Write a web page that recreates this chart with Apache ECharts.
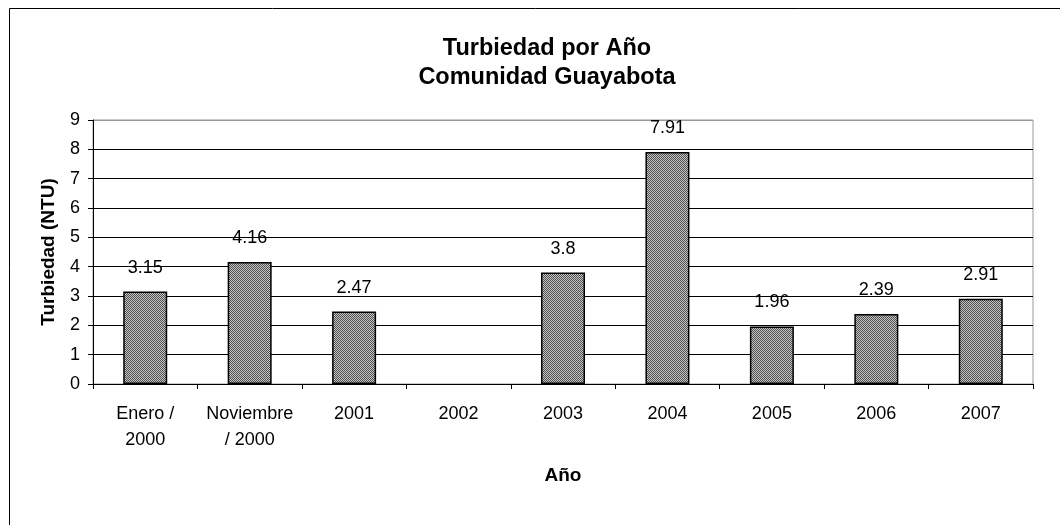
<!DOCTYPE html>
<html>
<head>
<meta charset="utf-8">
<script src="https://cdn.jsdelivr.net/npm/echarts@6/dist/echarts.min.js"></script>
<style>
  html, body { margin: 0; padding: 0; background: #fff; }
  #chart { width: 1060px; height: 525px; }
</style>
</head>
<body>
<div id="chart"></div>
<script>
const categories = ['Enero /\n2000', 'Noviembre\n/ 2000', '2001', '2002', '2003', '2004', '2005', '2006', '2007']
const turbidity = [3.15, 4.16, 2.47, null, 3.8, 7.91, 1.96, 2.39, 2.91]
const yTicks = [0, 1, 2, 3, 4, 5, 6, 7, 8, 9]

const fontFamily = '"Liberation Sans", Arial, sans-serif'

// small checker pattern, like the dotted fill of the bars
function makePattern() {
  const c = document.createElement('canvas')
  c.width = 2
  c.height = 2
  const ctx = c.getContext('2d')
  ctx.fillStyle = '#c4c4c4'
  ctx.fillRect(0, 0, 2, 2)
  ctx.fillStyle = '#505050'
  ctx.fillRect(0, 0, 1, 1)
  ctx.fillRect(1, 1, 1, 1)
  return c
}

const chart = echarts.init(document.getElementById('chart'), null, { renderer: 'canvas' })

chart.setOption({
  animation: false,
  backgroundColor: '#fff',
  textStyle: { fontFamily },
  title: {
    text: 'Turbiedad por Año\nComunidad Guayabota',
    left: 542,
    textAlign: 'center',
    top: 29,
    textStyle: {
      fontFamily,
      fontSize: 23.5,
      fontWeight: 'bold',
      color: '#000',
      lineHeight: 29
    }
  },
  graphic: [{
    type: 'rect',
    shape: { x: 9.5, y: 8.5, width: 1200, height: 700 },
    style: { fill: 'none', stroke: '#000', lineWidth: 1 },
    silent: true
  }],
  grid: {
    left: 93,
    right: 27,
    top: 120,
    bottom: 141,
    show: true,
    borderColor: '#999',
    borderWidth: 1
  },
  xAxis: {
    type: 'category',
    data: categories,
    name: 'Año',
    nameLocation: 'middle',
    nameGap: 82,
    nameTextStyle: { fontFamily, fontSize: 19, fontWeight: 'bold', color: '#000' },
    axisLine: { lineStyle: { color: '#000', width: 1 } },
    axisTick: { show: true, alignWithLabel: false, length: 5, lineStyle: { color: '#000' } },
    axisLabel: { fontFamily, fontSize: 18, color: '#000', margin: 17, lineHeight: 26, interval: 0 }
  },
  yAxis: {
    type: 'value',
    min: yTicks[0],
    max: yTicks[yTicks.length - 1],
    interval: 1,
    name: 'Turbiedad (NTU)',
    nameLocation: 'middle',
    nameGap: 35,
    nameTextStyle: { fontFamily, fontSize: 19, fontWeight: 'bold', color: '#000' },
    axisLine: { show: true, lineStyle: { color: '#000', width: 1 } },
    axisTick: { show: true, length: 5, lineStyle: { color: '#000' } },
    axisLabel: { fontFamily, fontSize: 18, color: '#000', margin: 13 },
    splitLine: {
      show: true,
      lineStyle: { color: ['#000', '#000', '#000', '#000', '#000', '#000', '#000', '#000', '#000', '#999'], width: 1 }
    }
  },
  series: [{
    name: 'Turbiedad',
    type: 'bar',
    data: turbidity,
    barWidth: 44,
    itemStyle: {
      color: { image: makePattern(), repeat: 'repeat' },
      borderColor: '#000',
      borderWidth: 1.5
    },
    label: {
      show: true,
      position: 'top',
      distance: 15,
      fontFamily,
      fontSize: 18,
      color: '#000'
    }
  }]
})
</script>
</body>
</html>
